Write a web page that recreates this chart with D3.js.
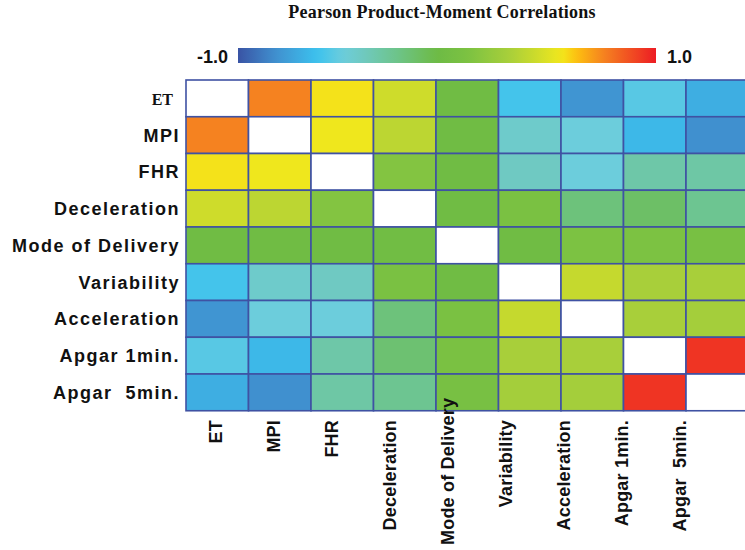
<!DOCTYPE html>
<html>
<head>
<meta charset="utf-8">
<script src="https://cdn.jsdelivr.net/npm/d3@7"></script>
<style>
  body { margin: 0; background: #fff; }
  svg { display: block; }
  .lbl { font-family: "Liberation Sans", Arial, sans-serif; font-weight: bold; fill: #111; white-space: pre; }
</style>
</head>
<body>
<div id="chart"></div>
<script>
/****************************************/
/*****  Data   *****/
/****************************************/
const variables = ["ET", "MPI", "FHR", "Deceleration", "Mode of Delivery",
  "Variability", "Acceleration", "Apgar 1min.", "Apgar  5min."];

// correlation rows, diagonal left empty (drawn white)
const rowET           = [null, 0.75, 0.56, 0.43, -0.02, -0.6, -0.8, -0.55, -0.7];
const rowMPI          = [0.75, null, 0.54, 0.37, -0.02, -0.44, -0.5, -0.66, -0.82];
const rowFHR          = [0.56, 0.54, null, 0.13, -0.02, -0.41, -0.5, -0.33, -0.32];
const rowDeceleration = [0.43, 0.37, 0.13, null, -0.02, 0.08, -0.2, -0.14, -0.26];
const rowMode         = [-0.02, -0.02, -0.02, -0.01, null, -0.02, 0.1, 0.1, 0.06];
const rowVariability  = [-0.6, -0.44, -0.41, 0.08, -0.02, null, 0.4, 0.3, 0.3];
const rowAcceleration = [-0.8, -0.5, -0.5, -0.2, 0.08, 0.4, null, 0.3, 0.28];
const rowApgar1       = [-0.55, -0.66, -0.33, -0.17, 0.08, 0.3, 0.3, null, 0.94];
const rowApgar5       = [-0.7, -0.82, -0.32, -0.26, 0.06, 0.28, 0.28, 0.94, null];
const matrix = [rowET, rowMPI, rowFHR, rowDeceleration, rowMode,
  rowVariability, rowAcceleration, rowApgar1, rowApgar5];

const legendMin = -1.0;
const legendMax = 1.0;

/****************************************/
/*****  Setup   *****/
/****************************************/
const width = 745;
const height = 550;
const gridLeft = 186;
const gridTop = 80;
const cellW = 62.5;
const cellH = 36.75;

const svg = d3.select('#chart')
  .append('svg')
    .attr('width', width)
    .attr('height', height);

const color = d3.scaleLinear()
  .domain([-1, -0.82, -0.62, -0.5, -0.4, -0.24, -0.05, 0.1, 0.3, 0.42, 0.55, 0.62, 0.75, 1])
  .range(['#3953a4', '#4090cf', '#3cc2ee', '#6ccddc', '#6fc9bf', '#6dc48a', '#6dbb45',
          '#7cc242', '#a8cf3a', '#cbdb2c', '#f2e81c', '#fdc010', '#f58220', '#ed1c24'])
  .interpolate(d3.interpolateRgb)
  .clamp(true);

const x = d3.scaleBand()
  .domain(variables)
  .range([gridLeft, gridLeft + cellW * variables.length]);
const y = d3.scaleBand()
  .domain(variables)
  .range([gridTop, gridTop + cellH * variables.length]);

// column labels sit on a slightly tighter spacing than the cells
const xLabel = d3.scaleBand()
  .domain(variables)
  .range([gridLeft, gridLeft + 58 * variables.length]);

/****************************************/
/*****  Title + colour bar   *****/
/****************************************/
svg.append('text')
    .attr('x', 442)
    .attr('y', 18)
    .attr('text-anchor', 'middle')
    .style('font-family', '"Liberation Serif", "Times New Roman", serif')
    .style('font-weight', 'bold')
    .style('font-size', '18px')
    .style('letter-spacing', '0.2px')
    .attr('fill', '#111')
    .text('Pearson Product-Moment Correlations');

const barX = 238, barY = 48, barW = 418, barH = 15;
const grad = svg.append('defs')
  .append('linearGradient')
    .attr('id', 'corr-grad')
    .attr('x1', '0%').attr('x2', '100%')
    .attr('y1', '0%').attr('y2', '0%');
grad.selectAll('stop')
  .data(d3.range(0, 1.0001, 0.02))
  .join('stop')
    .attr('offset', d => (d * 100) + '%')
    .attr('stop-color', d => color(legendMin + d * (legendMax - legendMin)));

svg.append('rect')
    .attr('x', barX)
    .attr('y', barY)
    .attr('width', barW)
    .attr('height', barH)
    .attr('fill', 'url(#corr-grad)');

svg.append('text')
    .attr('class', 'lbl')
    .attr('x', barX - 10)
    .attr('y', barY + barH)
    .attr('text-anchor', 'end')
    .style('font-size', '18px')
    .text(legendMin.toFixed(1));
svg.append('text')
    .attr('class', 'lbl')
    .attr('x', barX + barW + 11)
    .attr('y', barY + barH)
    .style('font-size', '18px')
    .text(legendMax.toFixed(1));

/****************************************/
/*****  Cells   *****/
/****************************************/
const cells = [];
matrix.forEach((row, i) => row.forEach((v, j) => {
  cells.push({ row: variables[i], col: variables[j], value: v });
}));

svg.append('g')
    .attr('class', 'cells')
  .selectAll('rect')
  .data(cells)
  .join('rect')
    .attr('x', d => x(d.col))
    .attr('y', d => y(d.row))
    .attr('width', x.bandwidth())
    .attr('height', y.bandwidth())
    .attr('fill', d => d.value === null ? '#ffffff' : color(d.value))
    .attr('stroke', '#3f52a3')
    .attr('stroke-width', 1.6);

/****************************************/
/*****  Labels   *****/
/****************************************/
// row labels (the first one is set in a serif face in the original)
svg.append('g')
  .selectAll('text')
  .data(variables)
  .join('text')
    .attr('class', 'lbl')
    .attr('x', (d, i) => i === 0 ? 173 : 180)
    .attr('y', d => y(d) + y.bandwidth() / 2 + 6.5)
    .attr('text-anchor', 'end')
    .style('font-size', (d, i) => i === 0 ? '16px' : '18px')
    .style('font-family', (d, i) => i === 0 ? '"Liberation Serif", "Times New Roman", serif' : null)
    .style('letter-spacing', (d, i) => i === 0 ? '0px' : '1.5px')
    .text(d => d);

// column labels, rotated; kept inside the bottom edge
const colLabels = svg.append('g')
  .selectAll('text')
  .data(variables)
  .join('text')
    .attr('class', 'lbl')
    .style('font-size', '18px')
    .style('letter-spacing', '0.2px')
    .attr('text-anchor', 'end')
    .text(d => d);

colLabels.each(function(d) {
  const len = this.getComputedTextLength();
  const top = Math.min(420, 545 - len);
  const cx = xLabel(d) + xLabel.bandwidth() / 2 + 6.5;
  d3.select(this).attr('transform', `translate(${cx},${top}) rotate(-90)`);
});
</script>
</body>
</html>
